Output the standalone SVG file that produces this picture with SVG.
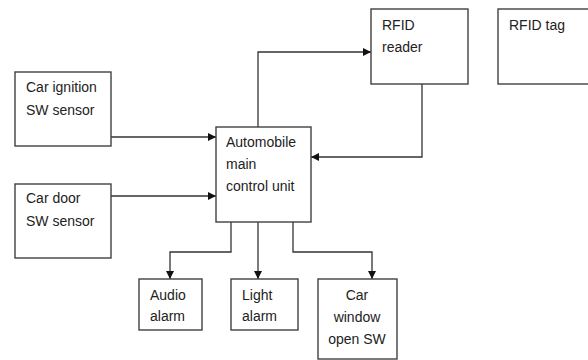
<svg xmlns="http://www.w3.org/2000/svg" width="588" height="360" viewBox="0 0 588 360">
<style>
.box{fill:#fff;stroke:#404040;stroke-width:1.4}
.t{font-family:"Liberation Sans",Arial,sans-serif;font-size:14px;fill:#222}
.c{text-anchor:middle}
.ln{fill:none;stroke:#333;stroke-width:1.3}
</style>
<defs>
<marker id="ah" viewBox="0 0 10 10" refX="10" refY="5" markerWidth="8" markerHeight="8" markerUnits="userSpaceOnUse" orient="auto">
<path d="M0,0 L10,5 L0,10 Z" fill="#111"/>
</marker>
</defs>
<rect width="588" height="360" fill="#fff"/>
<g id="connectors">
<path class="ln" d="M111,137 H216" marker-end="url(#ah)"/>
<path class="ln" d="M111,196 H216" marker-end="url(#ah)"/>
<path class="ln" d="M258,127 V52 H371" marker-end="url(#ah)"/>
<path class="ln" d="M422,84 V157 H311" marker-end="url(#ah)"/>
<path class="ln" d="M231,222 V252 H170 V279" marker-end="url(#ah)"/>
<path class="ln" d="M258,222 V279" marker-end="url(#ah)"/>
<path class="ln" d="M293,222 V252 H372 V279" marker-end="url(#ah)"/>
</g>
<g id="ignition">
<rect class="box" x="15" y="72" width="96" height="74"/>
<text class="t" x="26" y="92">Car ignition</text>
<text class="t" x="26" y="115">SW sensor</text>
</g>
<g id="door">
<rect class="box" x="15" y="184" width="96" height="74"/>
<text class="t" x="26" y="203">Car door</text>
<text class="t" x="26" y="226">SW sensor</text>
</g>
<g id="main">
<rect class="box" x="216" y="127" width="95" height="95"/>
<text class="t" x="226" y="147">Automobile</text>
<text class="t" x="226" y="169">main</text>
<text class="t" x="226" y="191">control unit</text>
</g>
<g id="reader">
<rect class="box" x="371" y="9" width="97" height="75"/>
<text class="t" x="382" y="30">RFID</text>
<text class="t" x="382" y="52">reader</text>
</g>
<g id="tag">
<rect class="box" x="498" y="9" width="96" height="75"/>
<text class="t" x="509" y="30">RFID tag</text>
</g>
<g id="audio">
<rect class="box" x="139" y="279" width="63" height="51"/>
<text class="t" x="150" y="300">Audio</text>
<text class="t" x="150" y="321">alarm</text>
</g>
<g id="light">
<rect class="box" x="231" y="279" width="67" height="51"/>
<text class="t" x="242" y="300">Light</text>
<text class="t" x="242" y="321">alarm</text>
</g>
<g id="window">
<rect class="box" x="318" y="279" width="79" height="80"/>
<text class="t c" x="357" y="300">Car</text>
<text class="t c" x="357" y="322">window</text>
<text class="t c" x="357" y="344">open SW</text>
</g>
</svg>
